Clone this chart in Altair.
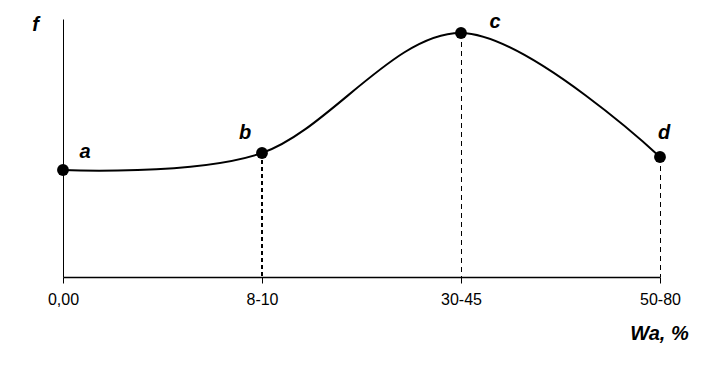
import altair as alt
import pandas as pd

# data
labels = ["a", "b", "c", "d"]
categories = ["0,00", "8-10", "30-45", "50-80"]
positions = [0, 1, 2, 3]
f_values = [107, 124, 244, 120]

df = pd.DataFrame({"pos": positions, "cat": categories, "lab": labels, "f": f_values})

FONT = "Liberation Sans"
label_expr = "[" + ",".join("'%s'" % c for c in categories) + "][datum.value]"

x_enc = alt.X(
    "pos:Q",
    scale=alt.Scale(domain=[0, 3], nice=False, zero=False),
    axis=alt.Axis(
        values=positions,
        labelExpr=label_expr,
        title="Wa, %",
        titleFont=FONT,
        titleFontSize=20,
        titleFontWeight="bold",
        titleFontStyle="italic",
        titleColor="black",
        titleAngle=0,
        titleX=596,
        titleY=56,
        titleAlign="center",
        titleBaseline="middle",
        labelFont=FONT,
        labelFontSize=16,
        labelColor="black",
        labelPadding=8,
        labelFlush=False,
        labelOverlap=False,
        tickColor="black",
        tickSize=6,
        tickWidth=1,
        domainColor="black",
        domainWidth=1.5,
        grid=False,
    ),
)
y_enc = alt.Y(
    "f:Q",
    scale=alt.Scale(domain=[0, 258], nice=False),
    axis=alt.Axis(
        title="f",
        titleFont=FONT,
        titleFontSize=20,
        titleFontWeight="bold",
        titleFontStyle="italic",
        titleColor="black",
        titleAngle=0,
        titleX=-28,
        titleY=5,
        titleAlign="center",
        titleBaseline="middle",
        labels=False,
        ticks=False,
        domainColor="black",
        domainWidth=1,
        grid=False,
    ),
)

base = alt.Chart(df)

line = base.mark_line(color="black", strokeWidth=2, interpolate="cardinal").encode(x=x_enc, y=y_enc)

rule_b = base.transform_filter("datum.lab == 'b'").mark_rule(
    color="black", strokeWidth=2, strokeDash=[4, 3]
).encode(x="pos:Q", y="f:Q", y2=alt.datum(0))
rule_cd = base.transform_filter("datum.lab == 'c' || datum.lab == 'd'").mark_rule(
    color="black", strokeWidth=1, strokeDash=[5, 4], xOffset=0.5
).encode(x="pos:Q", y="f:Q", y2=alt.datum(0))

pts = base.mark_point(filled=True, color="black", size=140, opacity=1).encode(x="pos:Q", y="f:Q")

offsets = {"a": (22, -18), "b": (-17, -20), "c": (34, -11), "d": (4, -24)}
texts = []
for lab in labels:
    dx, dy = offsets[lab]
    texts.append(
        base.transform_filter("datum.lab == '%s'" % lab).mark_text(
            font=FONT, fontSize=20, fontWeight="bold", fontStyle="italic",
            color="black", dx=dx, dy=dy, align="center", baseline="middle",
        ).encode(x="pos:Q", y="f:Q", text="lab:N")
    )

chart = alt.layer(rule_b, rule_cd, line, pts, *texts).properties(
    width=597,
    height=258,
    padding={"left": 63, "top": 19, "right": 48, "bottom": 90},
    autosize=alt.AutoSizeParams(type="none"),
    background="white",
).configure_view(stroke=None)

chart.save("out.html", embed_options={"renderer": "svg", "actions": False})
